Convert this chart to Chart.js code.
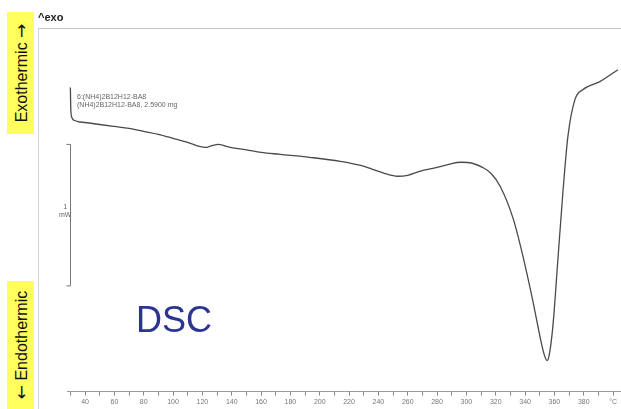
<!DOCTYPE html>
<html lang="en">
<head>
    <meta charset="UTF-8">
    <title>DSC</title>
    <style>
        body {
            margin: 0;
            padding: 0;
            background-color: #ffffff;
            font-family: "Liberation Sans", Arial, sans-serif;
        }

        .wrap {
            position: relative;
            width: 621px;
            height: 409px;
            overflow: hidden;
        }

        #dsc-chart {
            position: absolute;
            left: 0;
            top: 0;
        }

        .frame {
            position: absolute;
            left: 38px;
            top: 28px;
            width: 600px;
            height: 400px;
            border-top: 1px solid #c4c4c4;
            border-left: 1px solid #d4d4d4;
        }

        .side-label {
            position: absolute;
            left: 7px;
            width: 27px;
            background-color: #ffff5e;
        }

        .side-label span {
            position: absolute;
            left: 50%;
            top: 50%;
            transform: translate(-50%, -50%) rotate(-90deg);
            white-space: nowrap;
            font-size: 16px;
            color: #111;
        }

        .side-label b {
            font-family: "DejaVu Sans", sans-serif;
            font-weight: normal;
            font-size: 17px;
        }

        .exo { top: 12px; height: 122px; }
        .endo { top: 281px; height: 128px; }

        .small {
            position: absolute;
            font-size: 7px;
            color: #666;
            white-space: nowrap;
            line-height: 1.2;
        }

        .dsc {
            position: absolute;
            left: 136px;
            top: 299px;
            font-size: 36px;
            color: #2b3590;
        }

        .exo-mark {
            position: absolute;
            left: 38px;
            top: 11px;
            font-size: 11px;
            font-weight: bold;
            color: #222;
        }
    </style>
</head>
<body>
    <div class="wrap">
        <div class="frame"></div>
        <canvas id="dsc-chart" width="621" height="409"></canvas>

        <div class="side-label exo"><span>Exothermic <b>→</b></span></div>
        <div class="side-label endo"><span><b>←</b> Endothermic</span></div>
        <div class="exo-mark">^exo</div>

        <div class="small" style="left: 77px; top: 93px;">6:(NH4)2B12H12-BA8<br>(NH4)2B12H12-BA8, 2.5900 mg</div>
        <div class="small" style="left: 59px; top: 203px; text-align: center;">1<br>mW</div>

        <div class="dsc">DSC</div>
    </div>

    <script src="https://cdn.jsdelivr.net/npm/chart.js"></script>
    <script>
        // temperature (°C) and heat flow (mW)
        const tempC = [
            30.0, 30.3, 31.0, 33.0, 35, 40, 50, 60, 70, 80, 90, 100, 110, 118, 122, 126, 131, 139,
            150, 160, 173, 193, 214, 228, 236, 244, 253, 260, 268, 280, 288, 296, 304, 311, 317,
            323, 332, 339, 345, 351.5, 353.5, 355, 356.5, 359, 362.4, 365.8, 369.2, 374, 379.5, 391, 403.3
        ];
        const heatFlow = [
            0.789, 0.634, 0.577, 0.556, 0.549, 0.542, 0.528, 0.514, 0.500, 0.479, 0.458, 0.430, 0.401, 0.373, 0.366, 0.377, 0.387, 0.366,
            0.349, 0.331, 0.317, 0.296, 0.268, 0.239, 0.211, 0.183, 0.162, 0.169, 0.197, 0.225, 0.246, 0.261, 0.254, 0.225, 0.180,
            0.092, -0.141, -0.423, -0.704, -1.035, -1.113, -1.141, -1.099, -0.894, -0.423, 0.049, 0.444, 0.704, 0.775, 0.831, 0.915
        ];

        // x axis ticks: every 10 °C, labels every 20 °C, the last one is the unit
        const tickValues = [30, 40, 50, 60, 70, 80, 90, 100, 110, 120, 130, 140, 150, 160, 170, 180, 190, 200,
            210, 220, 230, 240, 250, 260, 270, 280, 290, 300, 310, 320, 330, 340, 350, 360, 370, 380, 390, 400];
        const unitTick = 400;

        // 1 mW scale bar
        const scaleBarTemp = 29.8;
        const scaleBarTop = 0.387;
        const scaleBarSpan = 1;

        const points = tempC.map((t, i) => ({ x: t, y: heatFlow[i] }));

        const scaleBarPlugin = {
            id: 'scaleBar',
            afterDraw(chart) {
                const ctx = chart.ctx;
                const x = Math.round(chart.scales.x.getPixelForValue(scaleBarTemp)) + 0.5;
                const y1 = chart.scales.y.getPixelForValue(scaleBarTop);
                const y2 = chart.scales.y.getPixelForValue(scaleBarTop - scaleBarSpan);
                ctx.save();
                ctx.strokeStyle = '#777';
                ctx.lineWidth = 1;
                ctx.beginPath();
                ctx.moveTo(x - 4, y1);
                ctx.lineTo(x, y1);
                ctx.lineTo(x, y2);
                ctx.lineTo(x - 4, y2);
                ctx.stroke();
                ctx.restore();
            }
        };

        new Chart(document.getElementById('dsc-chart').getContext('2d'), {
            type: 'line',
            data: {
                datasets: [{
                    data: points,
                    borderColor: '#4a4a4a',
                    borderWidth: 1.3,
                    pointRadius: 0,
                    fill: false,
                    cubicInterpolationMode: 'monotone'
                }]
            },
            options: {
                responsive: false,
                animation: false,
                devicePixelRatio: 1,
                layout: { padding: { left: 67, top: 28, right: 0, bottom: 1 } },
                plugins: {
                    legend: { display: false },
                    tooltip: { enabled: false }
                },
                scales: {
                    x: {
                        type: 'linear',
                        min: 27.7,
                        max: 405.4,
                        afterBuildTicks: (scale) => {
                            scale.ticks = tickValues.map(v => ({ value: v }));
                        },
                        grid: {
                            drawOnChartArea: false,
                            tickLength: 4,
                            tickColor: '#888'
                        },
                        border: { color: '#999' },
                        ticks: {
                            autoSkip: false,
                            maxRotation: 0,
                            padding: 2,
                            color: '#777',
                            font: { size: 7, family: '"Liberation Sans", Arial, sans-serif' },
                            callback: (value) => {
                                if (value === unitTick) return '°C';
                                return value % 20 === 0 ? String(value) : '';
                            }
                        }
                    },
                    y: {
                        display: false,
                        min: -1.36,
                        max: 1.21
                    }
                }
            },
            plugins: [scaleBarPlugin]
        });
    </script>
</body>
</html>
